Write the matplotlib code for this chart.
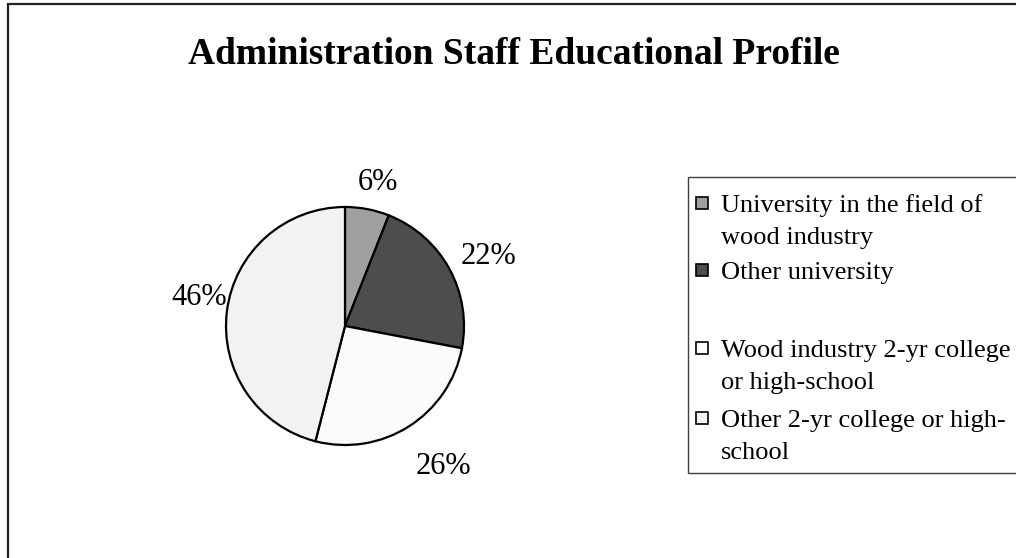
import matplotlib
matplotlib.use("Agg")
import matplotlib.pyplot as plt
from matplotlib.patches import Rectangle
import numpy as np

plt.rcParams['font.family'] = ['Liberation Serif', 'DejaVu Serif']

title = "Administration Staff Educational Profile"
categories = ["University in the field of\nwood industry",
              "Other university",
              "Wood industry 2-yr college\nor high-school",
              "Other 2-yr college or high-\nschool"]
values = [6, 22, 26, 46]
colors = ["#a0a0a0", "#4d4d4d", "#fbfbfb", "#f2f2f2"]
label_dist = [1.24, 1.34, 1.44, 1.25]
label_rot = [-2, -3, 2.5, -4]

W, H = 1016, 558
fig = plt.figure(figsize=(W / 100, H / 100), dpi=100)

def fx(x):
    return x / W

def fy(y):
    return 1 - y / H

# outer chart border (left/top visible, right/bottom cut off)
fig.patches.append(Rectangle((fx(8), fy(575)), fx(1040) - fx(8), fy(3.5) - fy(575),
                             transform=fig.transFigure, fill=False,
                             edgecolor="#222222", linewidth=1.6, zorder=0))

fig.text(fx(514), fy(64), title, ha='center', va='baseline',
         fontsize=27, fontweight='bold', color='black')

# pie
cx, cy, r = 345, 326, 119
ax = fig.add_axes([fx(cx - r), fy(cy + r), (2 * r) / W, (2 * r) / H])
wedges, _ = ax.pie(values, colors=colors, startangle=90, counterclock=False,
                   wedgeprops=dict(edgecolor='black', linewidth=1.6), radius=1.0)
ax.set_xlim(-1, 1)
ax.set_ylim(-1, 1)
ax.set_aspect('equal')
ax.axis('off')
total = sum(values)
for w, v, d, rot in zip(wedges, values, label_dist, label_rot):
    mid = np.deg2rad((w.theta1 + w.theta2) / 2 + rot)
    ax.text(d * np.cos(mid), d * np.sin(mid), f"{round(100 * v / total)}%",
            ha='center', va='center', fontsize=22, clip_on=False)

# legend
fig.patches.append(Rectangle((fx(688), fy(473)), fx(1030) - fx(688), fy(177) - fy(473),
                             transform=fig.transFigure, fill=False,
                             edgecolor="#404040", linewidth=1.0, zorder=1))
first_baselines = [212, 279, 357, 427]
line_gap = 32
for lab, col, bl in zip(categories, colors, first_baselines):
    hc = bl - 9
    fig.patches.append(Rectangle((fx(696), fy(hc + 6)), 12 / W, 12 / H,
                                 transform=fig.transFigure, facecolor=col,
                                 edgecolor='black', linewidth=1.2, zorder=2))
    for i, line in enumerate(lab.split("\n")):
        fig.text(fx(721), fy(bl + i * line_gap), line, ha='left', va='baseline',
                 fontsize=19, color='black')

fig.savefig("out.png", dpi=100, facecolor='white')
